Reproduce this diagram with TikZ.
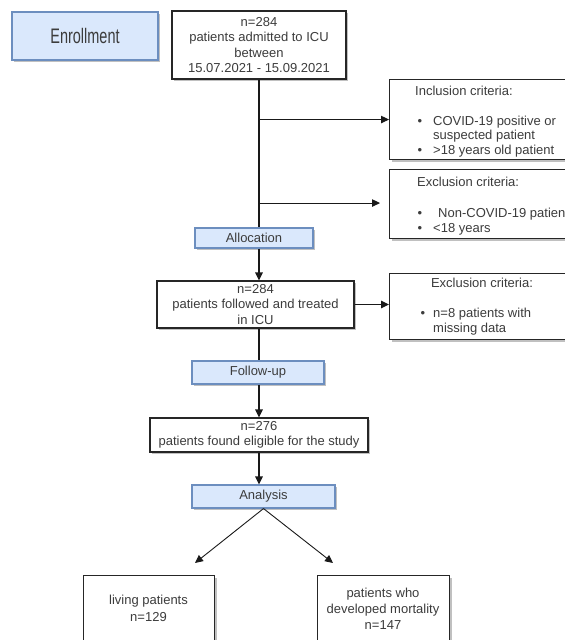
\documentclass[tikz,border=0pt]{standalone}
\usepackage{fontspec}
\usepackage{graphicx}
\setmainfont{Liberation Sans}
\usetikzlibrary{shadows,arrows.meta,calc}
\definecolor{bluefill}{HTML}{DAE8FC}
\definecolor{blueline}{HTML}{6C8EBF}
\definecolor{txt}{HTML}{3C3C3C}
\begin{document}
\begin{tikzpicture}[x=1pt,y=-1pt,
  every node/.style={text=txt, font=\fontsize{13}{15.5}\selectfont},
  shad/.style={drop shadow={shadow xshift=2pt,shadow yshift=-2pt,fill=black!45,opacity=0.55}},
  wbox/.style={draw=black!85, line width=1.1pt, fill=white, shad, inner sep=0pt, align=center},
  bbox/.style={draw=blueline, line width=1.1pt, fill=bluefill, shad, inner sep=0pt, align=center},
  tx/.style={inner sep=0pt, anchor=base},
  txw/.style={inner sep=0pt, anchor=base west},
  arr/.style={-{Triangle[length=8pt,width=7.5pt]}, line width=1.1pt, draw=black!90},
  ln/.style={line width=1.1pt, draw=black!90}]
\useasboundingbox (0,0) rectangle (565,640);
\clip (0,0) rectangle (565,640);

% enrollment
\node[bbox, minimum width=146pt, minimum height=48pt] (enroll) at (85,36)
  {\fontsize{21}{24}\selectfont\scalebox{0.69}[1]{Enrollment}};

% top box
\node[wbox, minimum width=174pt, minimum height=68pt] (top) at (259,45)
  {n=284\\patients admitted to ICU\\between\\15.07.2021 - 15.09.2021};

% inclusion criteria
\node[wbox, minimum width=220pt, minimum height=80pt, anchor=north west] (incl) at (389,79) {};
\node[txw] (inclh) at (415,95) {Inclusion criteria:};
\node[tx] (ib1) at (420,125) {•};
\node[txw] (it1) at (433,125) {COVID-19 positive or};
\node[txw] (it2) at (433,139.5) {suspected patient};
\node[tx] (ib2) at (420,154) {•};
\node[txw] (it3) at (433,154) {>18 years old patient};

% exclusion criteria 1
\node[wbox, minimum width=220pt, minimum height=69pt, anchor=north west] (excla) at (389,169) {};
\node[txw] (exah) at (417,186.5) {Exclusion criteria:};
\node[tx] (eab1) at (420,217.5) {•};
\node[txw] (eat1) at (438,217.5) {Non-COVID-19 patien};
\node[tx] (eab2) at (420,232.5) {•};
\node[txw] (eat2) at (433,232.5) {<18 years};

% allocation
\node[bbox, minimum width=118pt, minimum height=20pt] (alloc) at (254,238) {Allocation};

% followed box
\node[wbox, minimum width=197pt, minimum height=47pt] (fol) at (255.5,304.5)
  {n=284\\patients followed and treated\\in ICU};

% exclusion criteria 2
\node[wbox, minimum width=220pt, minimum height=66pt, anchor=north west] (exclb) at (389,273) {};
\node[tx] (exbh) at (482,287.5) {Exclusion criteria:};
\node[tx] (ebb1) at (423,317.5) {•};
\node[txw] (ebt1) at (433,317.5) {n=8 patients with};
\node[txw] (ebt2) at (433,332.5) {missing data};

% follow-up
\node[bbox, minimum width=132pt, minimum height=23pt] (follow) at (258,372.5) {Follow-up};

% eligible
\node[wbox, minimum width=218pt, minimum height=34pt] (elig) at (259,435)
  {n=276\\patients found eligible for the study};

% analysis
\node[bbox, minimum width=143pt, minimum height=23pt] (anal) at (263.5,496.5) {Analysis};

% outcome boxes
\node[wbox, minimum width=131pt, minimum height=90pt, anchor=north west] (living) at (83,575) {};
\node[tx] (lt1) at (148.5,604.5) {living patients};
\node[tx] (lt2) at (148.5,621.5) {n=129};
\node[wbox, minimum width=132pt, minimum height=90pt, anchor=north west] (mort) at (317,575) {};
\node[tx] (mt1) at (383,597.5) {patients who};
\node[tx] (mt2) at (383,613.5) {developed mortality};
\node[tx] (mt3) at (383,629.5) {n=147};

% connectors
\coordinate (j1) at (top.south |- incl.west);
\coordinate (j2) at ($(top.south |- excla.west)+(0,-1)$);
\coordinate (la) at (195,563);
\coordinate (ra) at (333,563);

\draw[ln] (top.south) -- (top.south |- alloc.north);
\draw[arr] (j1) -- (incl.west);
\draw[arr, shorten >=9pt] (j2) -- (j2 -| excla.west);
\draw[arr] (top.south |- alloc.south) -- (top.south |- fol.north);
\draw[arr] (fol.east) -- (fol.east -| exclb.west);
\draw[ln] (top.south |- fol.south) -- (top.south |- follow.north);
\draw[arr] (top.south |- follow.south) -- (top.south |- elig.north);
\draw[arr] (top.south |- elig.south) -- (top.south |- anal.north);
\draw[arr, line width=0.9pt] (anal.south) -- (la);
\draw[arr, line width=0.9pt] (anal.south) -- (ra);
\end{tikzpicture}
\end{document}
